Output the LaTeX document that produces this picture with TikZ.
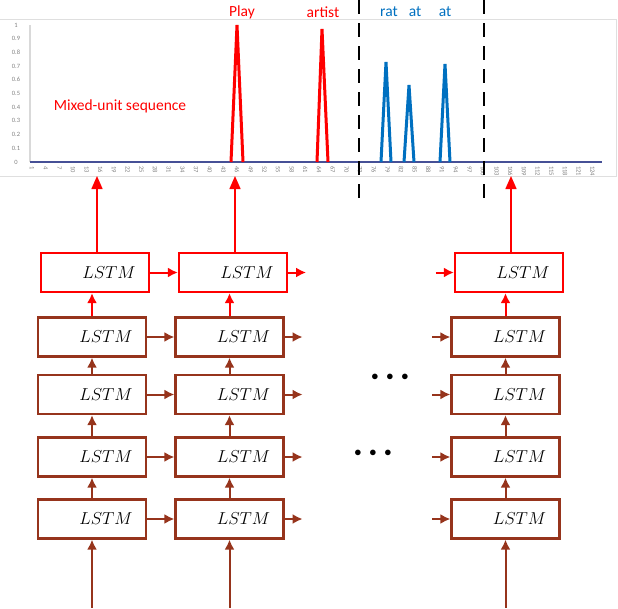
\documentclass[tikz,border=0pt]{standalone}
\usepackage{fontspec}
\setsansfont{Carlito}
\usetikzlibrary{arrows.meta}
\definecolor{lstmbrown}{RGB}{150,52,28}
\definecolor{peakblue}{RGB}{0,112,192}
\definecolor{basenavy}{RGB}{70,80,150}
\tikzset{
  lstmbox/.style  = {shape=rectangle, draw=lstmbrown, line width=2.2pt,
                     minimum width=108pt, minimum height=39pt,
                     inner sep=0pt, font=\LARGE},
  toplstm/.style  = {lstmbox, draw=red},
  link/.style     = {draw=lstmbrown, line width=2pt,
                     -{Latex[length=10pt,width=10pt]}},
  redlink/.style  = {link, draw=red, fill=red},
  outlink/.style  = {draw=red, line width=1.5pt,
                     -{Triangle[length=13pt,width=11pt]}},
  word/.style     = {font=\sffamily\fontsize{15.5}{15.5}\selectfont},
  ticklab/.style  = {font=\sffamily\fontsize{6.5}{6.5}\selectfont,
                     text=gray, inner sep=0pt},
  peak/.style     = {line width=3pt, line join=miter}
}
\begin{document}
\begin{tikzpicture}[x=1pt, y=-1pt]
  \useasboundingbox (0,0) rectangle (618,608);

  % chart frame and axes
  \draw[gray!25, line width=0.8pt] (0,19) -- (616,19) -- (616,176) -- (0,176);
  \draw[gray!30, line width=2pt] (30,25) -- (30,162);
  \foreach \v [count=\i from 0] in {0,0.1,0.2,0.3,0.4,0.5,0.6,0.7,0.8,0.9,1}
    \node[ticklab] (ylab\i) at (16,{162-13.7*\i}) {\v};
  \foreach \k in {0,...,41}{
    \pgfmathtruncatemacro\idx{1+3*\k}
    \node[ticklab, rotate=-90, anchor=west] (xlab\k) at ({32+3*\k*4.556},166) {\idx};
  }
  \draw[basenavy, line width=2pt] (30,162) -- (602,162);

  % peaks
  \draw[peak, red] (231,162) -- (237,25) -- (243,162);
  \draw[peak, red] (317,162) -- (322,29) -- (328,162);
  \draw[peak, peakblue] (381,162) -- (386,62) -- (391,162);
  \draw[peak, peakblue] (404,162) -- (409,85) -- (414,162);
  \draw[peak, peakblue] (440,162) -- (445,64) -- (450,162);

  \node[word, text=red] (play)   at (242,12) {Play};
  \node[word, text=red] (artist) at (323,12) {artist};
  \node[word, text=peakblue] (rat) at (389,12) {rat};
  \node[word, text=peakblue] (at1) at (415,12) {at};
  \node[word, text=peakblue] (at2) at (445,12) {at};
  \node[word, text=red] (mixed)  at (120,106) {Mixed-unit sequence};

  \draw[line width=1.6pt, dash pattern=on 14pt off 9pt] (359,0) -- (359,205);
  \draw[line width=1.6pt, dash pattern=on 14pt off 9pt] (484,0) -- (484,205);

  % lstm cells
  \foreach \c/\x in {1/95,2/233,3/509}
    \node[toplstm] (l1\c) at (\x,272.5) {\hspace*{28pt}$LSTM$};
  \foreach \r/\y in {2/337,3/394.5,4/457,5/519}
    \foreach \c/\x in {1/92,2/229.5,3/505.5}
      \node[lstmbox] (l\r\c) at (\x,\y) {\hspace*{28pt}$LSTM$};

  \node[font=\Large] (dots1) at (390,377) {$\bullet\ \bullet\ \bullet$};
  \node[font=\Large] (dots2) at (373,453) {$\bullet\ \bullet\ \bullet$};

  % links
  \foreach \c in {1,2,3}{
    \coordinate (in\c) at ([yshift=-68pt]l5\c.south);
    \coordinate (out\c) at ([xshift=2pt]l1\c.north |- 0,176);
    \draw[link] (in\c) -- (l5\c.south);
    \draw[link] (l5\c.north) -- (l4\c.south);
    \draw[link] (l4\c.north) -- (l3\c.south);
    \draw[link] (l3\c.north) -- (l2\c.south);
    \draw[redlink] (l2\c.north) -- (l2\c.north |- l1\c.south);
    \draw[outlink] ([xshift=2pt]l1\c.north) -- (out\c);
  }
  \foreach \r in {1,2,3,4,5}{
    \coordinate (stub\r) at ([xshift=18pt]l\r2.east);
    \coordinate (entry\r) at ([xshift=-18pt]l\r3.west);
  }
  \draw[redlink] (l11) -- (l12);
  \draw[redlink] (l12.east) -- (stub1);
  \draw[redlink] (entry1) -- (l13.west);
  \foreach \r in {2,3,4,5}{
    \draw[link] (l\r1) -- (l\r2);
    \draw[link] (l\r2.east) -- (stub\r);
    \draw[link] (entry\r) -- (l\r3.west);
  }
\end{tikzpicture}
\end{document}
